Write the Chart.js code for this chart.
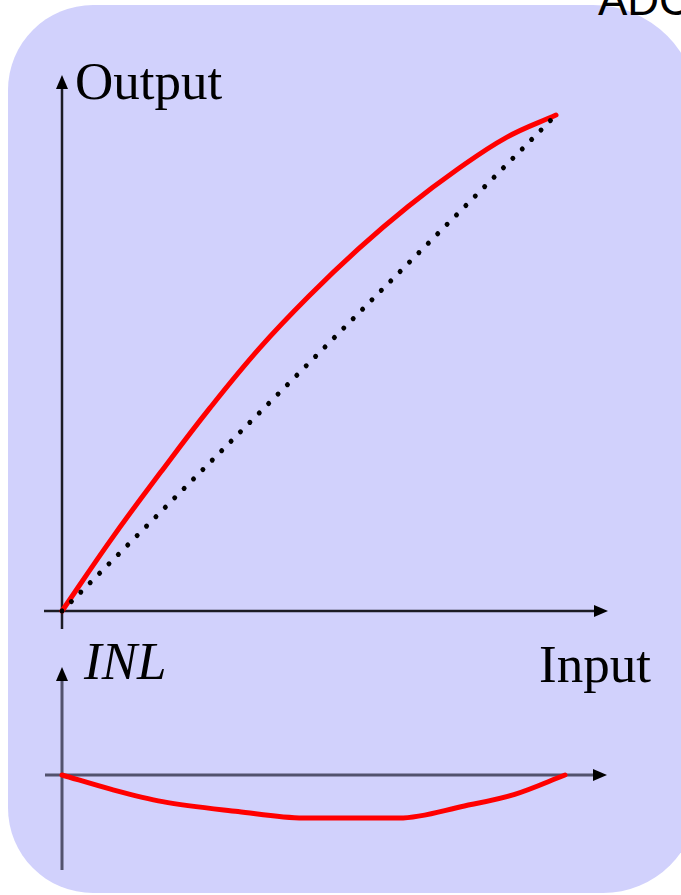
<!DOCTYPE html>
<html>
<head>
<meta charset="utf-8">
<script src="https://cdn.jsdelivr.net/npm/chart.js@4/dist/chart.umd.min.js"></script>
<style>
  html, body { margin: 0; padding: 0; background: #ffffff; }
  body { width: 681px; height: 895px; position: relative; overflow: hidden; }
  #panel {
    position: absolute; left: 8px; top: 5px; width: 690px; height: 888px;
    background: #d1d1fc;
    border-radius: 85px 105px 95px 85px;
  }
  .lbl { position: absolute; font-family: "Liberation Serif", "Times New Roman", serif;
         font-size: 53px; line-height: 53px; color: #000; white-space: nowrap; }
  #title { position: absolute; left: 598px; top: -22px; font-family: "Liberation Sans", Arial, sans-serif;
           font-size: 44px; line-height: 44px; color: #000; white-space: nowrap; }
  #top { position: absolute; left: 0; top: 0; width: 681px; height: 640px; }
  #bottom { position: absolute; left: 0; top: 640px; width: 681px; height: 255px; }
</style>
</head>
<body>
<div id="panel"></div>
<div id="title">ADC</div>
<div id="top"><canvas id="transfer"></canvas></div>
<div id="bottom"><canvas id="inl"></canvas></div>
<div class="lbl" style="left:75px; top:55px;">Output</div>
<div class="lbl" style="left:84px; top:635px; font-style:italic;">INL</div>
<div class="lbl" style="left:539px; top:638px;">Input</div>
<script>
// Transfer curve of the converter (input and output in % of full scale)
const inputLevels  = [0, 10, 20, 30, 40, 50, 60, 70, 80, 90, 100];
const outputLevels = [0, 14.5, 28, 41, 53, 63.5, 73, 81.5, 89, 95.5, 100];

// Ideal (straight) transfer line
const idealInput  = [0, 100];
const idealOutput = [0, 100];

// Integral non-linearity, normalised to its largest deviation
const inlInput  = [0, 10, 20, 35, 48, 58, 67, 80, 90, 100];
const inlValues = [0, -0.34, -0.62, -0.85, -1.0, -1.0, -1.0, -0.72, -0.45, 0];

const toPoints = (xs, ys) => xs.map((x, i) => ({ x, y: ys[i] }));

// Draws the two arrowed axes through the origin of the plot
const arrowAxes = {
  id: 'arrowAxes',
  beforeDatasetsDraw(chart, args, opts) {
    const { ctx, chartArea, scales } = chart;
    const ox = scales.x.getPixelForValue(0);
    const oy = scales.y.getPixelForValue(0);
    const head = (x, y, dir) => {
      ctx.beginPath();
      if (dir === 'up') {
        ctx.moveTo(x, y); ctx.lineTo(x - 6, y + 14); ctx.lineTo(x + 6, y + 14);
      } else {
        ctx.moveTo(x, y); ctx.lineTo(x - 14, y - 6); ctx.lineTo(x - 14, y + 6);
      }
      ctx.closePath(); ctx.fill();
    };
    ctx.save();
    ctx.strokeStyle = opts.color;
    ctx.fillStyle = opts.headColor;
    ctx.lineWidth = opts.width;
    const yTip = oy - opts.up;
    const xTip = chartArea.right + opts.right;
    ctx.beginPath();
    ctx.moveTo(ox, oy + opts.down); ctx.lineTo(ox, yTip + 8);
    ctx.moveTo(ox - opts.left, oy); ctx.lineTo(xTip - 8, oy);
    ctx.stroke();
    head(ox, yTip, 'up');
    head(xTip, oy, 'right');
    ctx.restore();
  }
};

const hiddenScales = (ymin, ymax) => ({
  x: { type: 'linear', min: 0, max: 100, display: false },
  y: { type: 'linear', min: ymin, max: ymax, display: false }
});

const commonOptions = {
  responsive: false,
  animation: false,
  events: [],
  plugins: { legend: { display: false }, tooltip: { enabled: false } },
  elements: { point: { radius: 0 } }
};

function sizeCanvas(id, w, h) {
  const c = document.getElementById(id);
  c.width = w; c.height = h;
  c.style.width = w + 'px'; c.style.height = h + 'px';
  return c;
}

new Chart(sizeCanvas('transfer', 681, 640), {
  type: 'line',
  data: {
    datasets: [
      {
        data: toPoints(idealInput, idealOutput),
        borderColor: '#000000', borderWidth: 5,
        borderDash: [0.01, 13.3], borderCapStyle: 'round',
        clip: false
      },
      {
        data: toPoints(inputLevels, outputLevels),
        borderColor: '#ff0000', borderWidth: 5,
        tension: 0.4, borderCapStyle: 'round',
        clip: false
      }
    ]
  },
  options: {
    ...commonOptions,
    layout: { padding: { left: 62, right: 125, top: 115, bottom: 29 } },
    scales: hiddenScales(0, 100),
    plugins: {
      ...commonOptions.plugins,
      arrowAxes: { color: '#1c1c24', headColor: '#000000', width: 2.5, up: 536, down: 18, left: 18, right: 52 }
    }
  },
  plugins: [arrowAxes]
});

new Chart(sizeCanvas('inl', 681, 255), {
  type: 'line',
  data: {
    datasets: [
      {
        data: toPoints(inlInput, inlValues),
        borderColor: '#ff0000', borderWidth: 5,
        cubicInterpolationMode: 'monotone', borderCapStyle: 'round',
        clip: false
      }
    ]
  },
  options: {
    ...commonOptions,
    layout: { padding: { left: 62, right: 116, top: 135, bottom: 77 } },
    scales: hiddenScales(-1, 0),
    plugins: {
      ...commonOptions.plugins,
      arrowAxes: { color: 'rgba(50,50,72,0.8)', headColor: '#000000', width: 3, up: 108, down: 95, left: 17, right: 42 }
    }
  },
  plugins: [arrowAxes]
});
</script>
</body>
</html>
